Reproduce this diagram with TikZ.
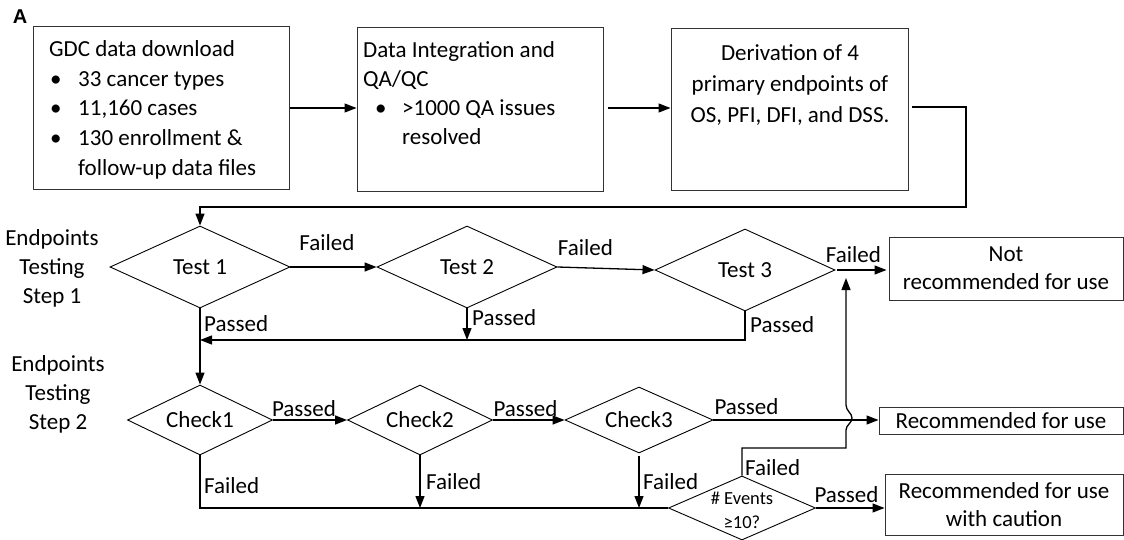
\documentclass[tikz,border=0pt]{standalone}
\usepackage{fontspec}
\setmainfont{Carlito}
\newfontfamily\arialf{Liberation Sans}
\usetikzlibrary{shapes.geometric,arrows.meta}
\newcommand\mainsz{\fontsize{23pt}{29.5pt}\selectfont}
\newcommand\evsz{\fontsize{18.5pt}{24pt}\selectfont}
\begin{document}
\begin{tikzpicture}[x=1pt,y=-1pt,font=\mainsz,
  box/.style={draw=black!80, line width=1pt, rectangle, inner sep=0pt},
  dmd/.style={draw, diamond, aspect=2, inner sep=0pt, line width=0.9pt},
  arr/.style={-{Triangle[length=12pt,width=9pt]}, line width=1.3pt},
  ln/.style={line width=1.3pt},
  lbl/.style={inner sep=0pt},
  txt/.style={inner sep=0pt}]
\useasboundingbox (0,0) rectangle (1124,540);

\node[txt, font=\arialf\bfseries\fontsize{20pt}{20pt}\selectfont] (lA) at (20,17) {A};

% top boxes
\node[box, minimum width=256pt, minimum height=163pt] (b1) at (161,108.5) {};
\node[box, minimum width=246pt, minimum height=164pt] (b2) at (480,110) {};
\node[box, minimum width=237pt, minimum height=162pt] (b3) at (789.5,110) {};

\node[txt, anchor=base west, font=\fontsize{23pt}{29.7pt}\selectfont] (b1t) at (49,56.5)
 {\begin{tabular}[t]{@{}l@{}}GDC data download\\
 \makebox[29pt][l]{\hspace{1pt}•}33 cancer types\\
 \makebox[29pt][l]{\hspace{1pt}•}11,160 cases\\
 \makebox[29pt][l]{\hspace{1pt}•}130 enrollment \&\\
 \hspace{29pt}follow-up data files\end{tabular}};

\node[txt, anchor=base west, font=\fontsize{23pt}{29pt}\selectfont] (b2t) at (363,58)
 {\begin{tabular}[t]{@{}l@{}}Data Integration and\\
 QA/QC\\
 \makebox[39pt][l]{\hspace{12pt}•}>1000 QA issues\\
 \hspace{39pt}resolved\end{tabular}};

\node[txt, anchor=base, font=\fontsize{23pt}{31pt}\selectfont] (b3t) at (790,61)
 {\begin{tabular}[t]{@{}c@{}}Derivation of 4\\
 primary endpoints of\\
 OS, PFI, DFI, and DSS.\end{tabular}};

% result boxes
\node[box, minimum width=234pt, minimum height=63pt, align=center, font=\fontsize{23pt}{28pt}\selectfont] (nr) at (1006,268.5) {Not\\recommended for use};
\node[box, minimum width=244pt, minimum height=27pt] (rec) at (1001,420.5) {Recommended for use};
\node[box, minimum width=238pt, minimum height=61pt, align=center, font=\fontsize{23pt}{28pt}\selectfont] (cau) at (1004,504.5) {Recommended for use\\with caution};

% side labels
\node[txt, align=center, font=\fontsize{23pt}{29pt}\selectfont] (s1) at (52,268) {Endpoints\\Testing\\Step 1};
\node[txt, align=center, font=\fontsize{23pt}{29pt}\selectfont] (s2) at (58,394) {Endpoints\\Testing\\Step 2};

% diamonds
\node[dmd, minimum width=180pt, minimum height=82pt] (t1) at (200,267) {Test 1};
\node[dmd, minimum width=180pt, minimum height=82pt] (t2) at (467,267) {Test 2};
\node[dmd, minimum width=180pt, minimum height=82pt] (t3) at (745,270) {Test 3};
\node[dmd, minimum width=145pt, minimum height=70pt] (c1) at (200,420) {Check1};
\node[dmd, minimum width=145pt, minimum height=70pt] (c2) at (420,420) {Check2};
\node[dmd, minimum width=148pt, minimum height=66pt] (c3) at (639,420) {Check3};
\node[dmd, minimum width=147pt, minimum height=64pt] (ev) at (742,508) {};
\node[txt, align=center, font=\evsz] (evt) at (742,510) {\# Events\\≥10?};

% top connectors
\draw[arr] (b1.east |- 0,108) -- (b2.west |- 0,108);
\draw[arr] (608,108) -- (b3.west |- 0,108);
\coordinate (k1) at (912,107);
\coordinate (k2) at (966,107);
\coordinate (k3) at (966,207);
\draw[arr] (k1) -- (k2) -- (k3) -- (t1.north |- k3) -- (t1.north);

% step 1
\draw[arr] (t1.east) -- (t2.west);
\node[lbl] (f1) at (327,243) {Failed};
\draw[arr] (t2.east) -- (t3.west);
\node[lbl] (f2) at (585.5,248) {Failed};
\draw[arr, shorten <=2pt, shorten >=2pt] (t3.east) -- (nr.west |- t3.east);
\node[lbl] (f3) at (853.5,255) {Failed};

\draw[arr] (t1.south) -- (c1.north);
\node[lbl, anchor=west] (p1) at (204,324) {Passed};
\draw[arr] (t2.south) -- (t2.south |- 0,340);
\node[lbl, anchor=west] (p2) at (472,318) {Passed};
\draw[arr] (t3.south) -- (t3.south |- 0,340) -- (t1.south |- 0,340);
\node[lbl, anchor=west] (p3) at (750,325) {Passed};

% step 2
\draw[arr] (c1.east) -- (c2.west);
\node[lbl] (p4) at (304,409) {Passed};
\draw[arr] (c2.east) -- (c3.west);
\node[lbl] (p5) at (525.5,409) {Passed};
\draw[arr] (c3.east) -- (rec.west |- c3.east);
\node[lbl] (p6) at (746.5,407) {Passed};

\draw[ln] (c1.south) -- (c1.south |- 0,508) -- (ev.west);
\node[lbl, anchor=west] (f4) at (204,486) {Failed};
\draw[arr] (c2.south) -- (c2.south |- 0,508);
\node[lbl, anchor=west] (f5) at (426,482) {Failed};
\draw[arr, shorten <=3pt] (c3.south) -- (c3.south |- 0,508);
\node[lbl, anchor=west] (f6) at (643,482) {Failed};

\coordinate (j1) at (846,448);
\coordinate (j2) at (846,278);
\draw[arr] (ev.north) -- (ev.north |- j1) -- (j1) -- (846,430)
  .. controls (846,425) and (852,423) .. (852,418)
  .. controls (852,413) and (846,411) .. (846,405) -- (j2);
\node[lbl, anchor=west] (f7) at (745,468) {Failed};
\draw[arr] (ev.east) -- (cau.west |- ev.east);
\node[lbl] (p7) at (846.5,495) {Passed};
\end{tikzpicture}
\end{document}
